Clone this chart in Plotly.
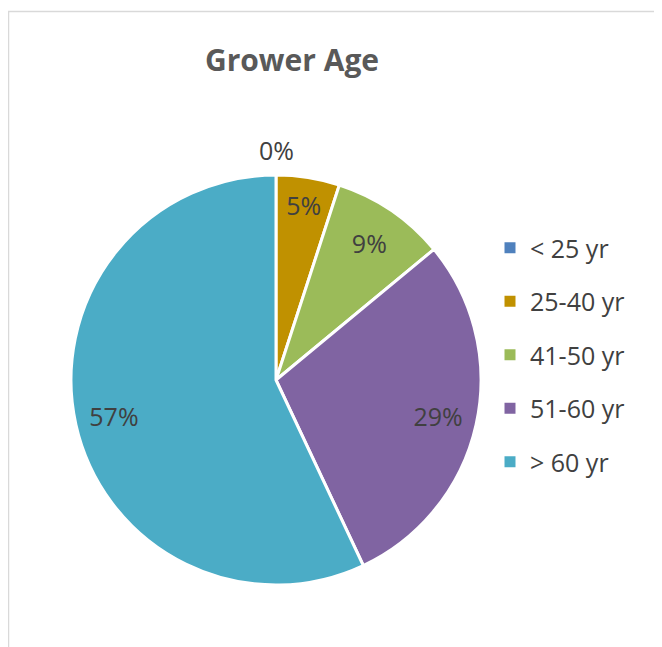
import plotly.graph_objects as go

# Grower age distribution (percent of growers)
age_groups = ['< 25 yr', '25-40 yr', '41-50 yr', '51-60 yr', '> 60 yr']
shares = [0, 5, 9, 29, 57]
colors = ['#4F81BD', '#C09100', '#9BBB59', '#8064A2', '#4BACC6']

W, H = 662, 647
FONT = "Open Sans"
TXT = '#404040'
pie_domain = dict(x=[63 / W, 473 / W], y=[1 - 577 / H, 1 - 167 / H])

fig = go.Figure()

# the coloured pie itself (no text)
fig.add_trace(go.Pie(
    labels=age_groups,
    values=shares,
    sort=False,
    direction='clockwise',
    rotation=0,
    marker=dict(colors=colors, line=dict(color='#FFFFFF', width=3)),
    textinfo='none',
    domain=pie_domain,
    showlegend=False,
    hoverinfo='label+percent'
))

# transparent ring on top, only used to place the labels out towards the rim
fig.add_trace(go.Pie(
    labels=age_groups,
    values=shares,
    sort=False,
    direction='clockwise',
    rotation=0,
    hole=0.62,
    marker=dict(colors=['rgba(0,0,0,0)'] * len(shares), line=dict(width=0)),
    texttemplate='%{percent:.0%}',
    textposition=['none' if v == 0 else 'inside' for v in shares],
    insidetextorientation='horizontal',
    textfont=dict(color=TXT, size=25, family=FONT),
    domain=pie_domain,
    showlegend=False,
    hoverinfo='skip'
))

# zero-size slices get no label from plotly, so put theirs just above the top of the pie
annotations = []
for name, v in zip(age_groups, shares):
    if v == 0:
        annotations.append(dict(
            text=f'{v}%', showarrow=False,
            x=sum(pie_domain['x']) / 2, xref='paper', xanchor='center',
            y=pie_domain['y'][1], yref='paper', yanchor='middle', yshift=25,
            font=dict(color=TXT, size=25, family=FONT)
        ))

# legend entries as separate groups so they can be spaced like the original
for i, (name, col) in enumerate(zip(age_groups, colors)):
    fig.add_trace(go.Scatter(
        x=[None], y=[None], mode='markers', name=name,
        marker=dict(symbol='square', size=11, color=col),
        legendgroup=f'g{i}', showlegend=True
    ))

fig.update_layout(
    width=W, height=H,
    autosize=False,
    margin=dict(l=0, r=0, t=0, b=0),
    paper_bgcolor='#FFFFFF',
    plot_bgcolor='#FFFFFF',
    title=dict(
        text='<b>Grower Age</b>',
        x=284 / W, xanchor='center', xref='paper',
        y=1 - 52 / H, yanchor='middle', yref='paper',
        font=dict(color='#595959', size=30, family=FONT)
    ),
    xaxis=dict(visible=False),
    yaxis=dict(visible=False),
    showlegend=True,
    legend=dict(
        x=482 / W, xanchor='left',
        y=1 - 217 / H, yanchor='top',
        font=dict(color=TXT, size=25, family=FONT),
        tracegroupgap=18,
        bgcolor='rgba(0,0,0,0)'
    ),
    annotations=annotations,
    shapes=[dict(
        type='rect', xref='paper', yref='paper',
        x0=0.5 / W, x1=1.2, y0=-0.2, y1=1 - 3.5 / H,
        line=dict(color='#D9D9D9', width=1.5), fillcolor='rgba(0,0,0,0)', layer='below'
    )]
)

fig.write_html("out.html")
